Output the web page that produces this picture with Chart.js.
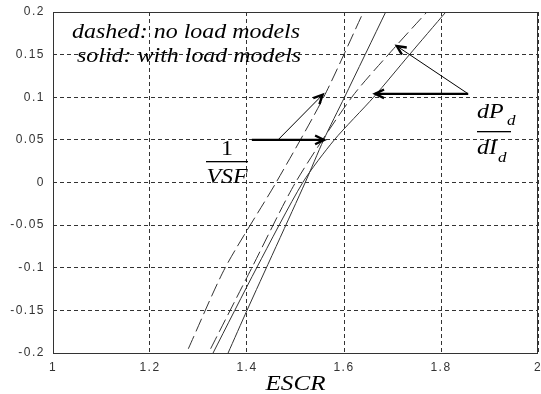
<!DOCTYPE html>
<html>
<head>
<meta charset="UTF-8">
<script src="https://cdn.jsdelivr.net/npm/chart.js@4.4.0/dist/chart.umd.min.js"></script>
<style>
  html, body { margin: 0; padding: 0; background: #fff; }
  canvas { display: block; }
</style>
</head>
<body>
<canvas id="escrChart" width="541" height="394"></canvas>
<script>
// 1/VSF, no load models (dashed)
const vsfNoLoadX = [1.279, 1.355, 1.46, 1.558, 1.64];
const vsfNoLoadY = [-0.195, -0.1, 0, 0.1, 0.2];
// 1/VSF, with load models (solid)
const vsfLoadX = [1.361, 1.40, 1.52, 1.558, 1.601, 1.686];
const vsfLoadY = [-0.2, -0.15, 0, 0.05, 0.1, 0.2];
// dPd/dId, no load models (dashed)
const dpdNoLoadX = [1.325, 1.41, 1.50, 1.616, 1.707, 1.771];
const dpdNoLoadY = [-0.195, -0.1, 0, 0.1, 0.16, 0.2];
// dPd/dId, with load models (solid)
const dpdLoadX = [1.330, 1.42, 1.515, 1.58, 1.661, 1.735, 1.81];
const dpdLoadY = [-0.2, -0.1, 0, 0.05, 0.1, 0.15, 0.2];

const xTicks = [1, 1.2, 1.4, 1.6, 1.8, 2];
const yTicks = [0.2, 0.15, 0.1, 0.05, 0, -0.05, -0.1, -0.15, -0.2];

function pts(xs, ys) {
  return xs.map((x, i) => ({ x: x, y: ys[i] }));
}

function curve(xs, ys, dashed) {
  return {
    data: pts(xs, ys),
    showLine: true,
    borderColor: '#333',
    borderWidth: 1,
    borderDash: dashed ? [14, 5] : [],
    pointRadius: 0,
    tension: 0.25,
    fill: false
  };
}

function arrow(ctx, x1, y1, x2, y2, width) {
  const ang = Math.atan2(y2 - y1, x2 - x1);
  const head = 10;
  ctx.save();
  ctx.strokeStyle = '#000';
  ctx.lineWidth = width;
  ctx.beginPath();
  ctx.moveTo(x1, y1);
  ctx.lineTo(x2, y2);
  ctx.stroke();
  ctx.lineWidth = 2.4;
  ctx.beginPath();
  ctx.moveTo(x2 - head * Math.cos(ang - 0.45), y2 - head * Math.sin(ang - 0.45));
  ctx.lineTo(x2, y2);
  ctx.lineTo(x2 - head * Math.cos(ang + 0.45), y2 - head * Math.sin(ang + 0.45));
  ctx.stroke();
  ctx.restore();
}

// serif text, stretched a little in x like the original figure
function label(ctx, text, x, y, font, align) {
  ctx.save();
  ctx.font = font;
  ctx.textAlign = align || 'left';
  ctx.translate(x, y);
  ctx.scale(1.14, 1);
  ctx.fillText(text, 0, 0);
  ctx.restore();
}

// the old MATLAB tick labels are spaced out
const tickSpacing = {
  id: 'tickSpacing',
  beforeDraw(chart) { chart.ctx.letterSpacing = '1.5px'; },
  afterDatasetsDraw(chart) { chart.ctx.letterSpacing = '0px'; }
};

const annotations = {
  id: 'annotations',
  afterDatasetsDraw(chart) {
    const ctx = chart.ctx;
    const xs = chart.scales.x, ys = chart.scales.y;
    const px = v => xs.getPixelForValue(v);
    const py = v => ys.getPixelForValue(v);
    const a = chart.chartArea;
    const it = 'italic 21px "Liberation Serif"';
    const sub = 'italic 15px "Liberation Serif"';

    ctx.save();
    ctx.letterSpacing = '0px';
    // frame
    ctx.strokeStyle = '#333';
    ctx.lineWidth = 1;
    ctx.setLineDash([]);
    ctx.strokeRect(a.left + 0.5, a.top + 0.5, a.right - a.left - 1, a.bottom - a.top);

    ctx.fillStyle = '#000';
    label(ctx, 'dashed: no load models', 72, 38, it);
    label(ctx, 'solid: with load models', 77, 62, it);

    // axis title
    label(ctx, 'ESCR', (a.left + a.right) / 2, 390, 'italic 22px "Liberation Serif"', 'center');

    // 1 / VSF
    label(ctx, '1', 227, 155, '21px "Liberation Serif"', 'center');
    ctx.fillRect(206, 161, 42, 1.3);
    label(ctx, 'VSF', 227, 183, it, 'center');

    // dPd / dId
    label(ctx, 'dP', 477, 118, it);
    label(ctx, 'd', 507, 125, sub);
    ctx.fillRect(477, 131, 34, 1.3);
    label(ctx, 'dI', 477, 154, it);
    label(ctx, 'd', 498, 162, sub);

    // arrows for 1/VSF
    arrow(ctx, px(1.41), py(0.05), px(1.559), py(0.05), 2.4);
    arrow(ctx, px(1.464), py(0.05), px(1.556), py(0.103), 1);
    // arrows for dPd/dId
    arrow(ctx, px(1.856), py(0.104), px(1.664), py(0.104), 2.4);
    arrow(ctx, px(1.856), py(0.104), px(1.709), py(0.16), 1);
    ctx.restore();
  }
};

const tickFont = { family: 'Liberation Sans', size: 12 };

new Chart(document.getElementById('escrChart'), {
  type: 'scatter',
  data: {
    datasets: [
      curve(vsfNoLoadX, vsfNoLoadY, true),
      curve(vsfLoadX, vsfLoadY, false),
      curve(dpdNoLoadX, dpdNoLoadY, true),
      curve(dpdLoadX, dpdLoadY, false)
    ]
  },
  options: {
    responsive: false,
    animation: false,
    devicePixelRatio: 1,
    layout: { padding: { top: 12, right: 3, left: 0, bottom: 0 } },
    plugins: { legend: { display: false }, tooltip: { enabled: false } },
    scales: {
      x: {
        type: 'linear', min: 1, max: 2,
        afterFit: s => { s.height = 41; s.paddingLeft = 0; s.paddingRight = 0; },
        afterBuildTicks: s => { s.ticks = xTicks.map(v => ({ value: v })); },
        ticks: { color: '#333', font: tickFont, padding: 7, maxRotation: 0,
                 callback: v => String(+v.toFixed(1)) },
        grid: { color: '#333', lineWidth: 1, drawTicks: false },
        border: { display: false, dash: [4, 3] }
      },
      y: {
        type: 'linear', min: -0.2, max: 0.2,
        afterFit: s => { s.width = 53; s.paddingTop = 0; s.paddingBottom = 0; },
        afterBuildTicks: s => { s.ticks = yTicks.map(v => ({ value: v })); },
        ticks: { color: '#333', font: tickFont, padding: 8,
                 callback: v => String(+v.toFixed(2)) },
        grid: { color: '#333', lineWidth: 1, drawTicks: false },
        border: { display: false, dash: [4, 3] }
      }
    }
  },
  plugins: [tickSpacing, annotations]
});
</script>
</body>
</html>
